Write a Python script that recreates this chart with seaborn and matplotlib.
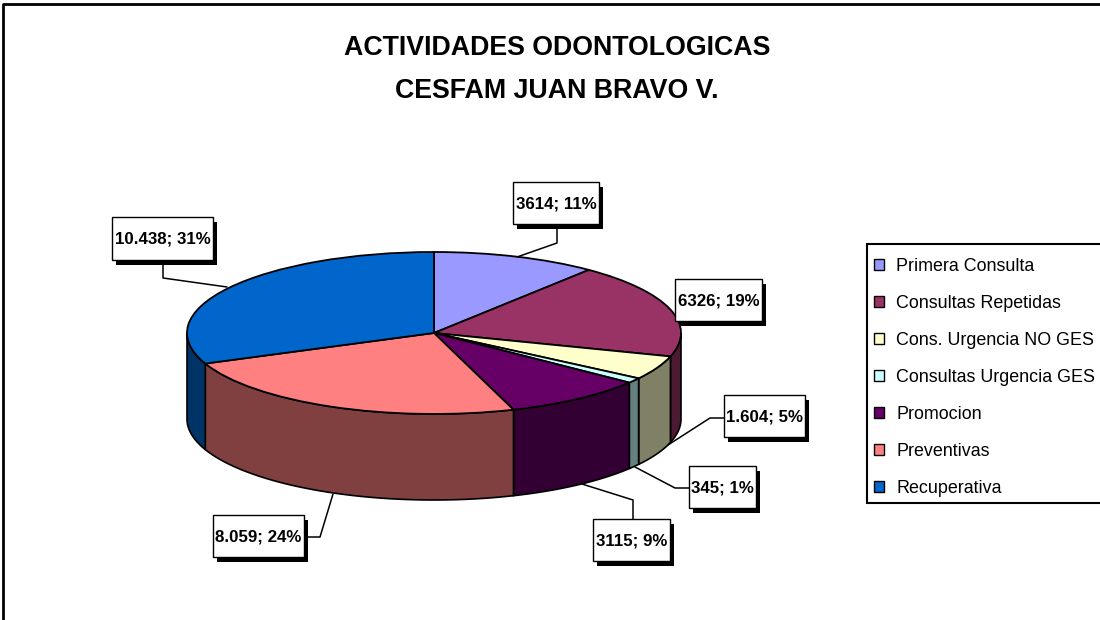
import numpy as np
import matplotlib
matplotlib.use("Agg")
import matplotlib.pyplot as plt
import seaborn as sns
from matplotlib.patches import Rectangle

categories = ["Primera Consulta", "Consultas Repetidas", "Cons. Urgencia NO GES",
              "Consultas Urgencia GES", "Promocion", "Preventivas", "Recuperativa"]
values = [3614, 6326, 1604, 345, 3115, 8059, 10438]
labels = ["3614; 11%", "6326; 19%", "1.604; 5%", "345; 1%", "3115; 9%", "8.059; 24%", "10.438; 31%"]
colors = ["#9999FF", "#993366", "#FFFFCC", "#CCFFFF", "#660066", "#FF8080", "#0066CC"]

title_lines = ["ACTIVIDADES ODONTOLOGICAS", "CESFAM JUAN BRAVO V."]

# label boxes in pixels: x0, y0, x1, y1
boxes = [(513, 182, 599, 224), (675, 279, 762, 321), (724, 395, 805, 437),
         (689, 466, 756, 508), (593, 519, 670, 561), (213, 515, 304, 557),
         (112, 217, 213, 260)]
leaders = [[(557, 224), (557, 243), (517, 257)], None,
           [(724, 418), (710, 418), (668, 445)],
           [(689, 488), (675, 488), (635, 467)],
           [(633, 519), (633, 500), (582, 484)],
           [(304, 537), (320, 537), (333, 494)],
           [(163, 260), (163, 278), (227, 287)]]

W, H = 1100, 620
CX, CY, RX, RY, DEPTH = 434, 333, 247, 81, 86
FONT = "Liberation Sans"


def draw_pie(fig):
    ax = fig.add_axes([0, 0, 1, 1], zorder=1)
    palette = sns.color_palette(colors)
    wedges, _ = ax.pie(values, colors=palette, startangle=90, counterclock=False,
                       wedgeprops={"edgecolor": "black", "linewidth": 1.3, "zorder": 3})
    ax.set_aspect("auto")
    ax.set_xlim((0 - CX) / RX, (W - CX) / RX)
    ax.set_ylim((CY - H) / RY, CY / RY)
    ax.axis("off")

    # side wall of the pie, only the front half shows
    depth = DEPTH / RY
    edges = 90 - np.concatenate([[0], np.cumsum(values)]) / sum(values) * 360
    for a, b, c in zip(edges[:-1], edges[1:], palette):
        t = np.radians(np.linspace(a, b, 200))
        t = t[np.sin(t) <= 0]
        if len(t) == 0:
            continue
        xs = np.cos(t)
        ys = np.sin(t)
        ax.fill(np.r_[xs, xs[::-1]], np.r_[ys, ys[::-1] - depth],
                facecolor=np.array(c) * 0.5, edgecolor="black", linewidth=1.2, zorder=2)
    return wedges


def draw_overlay(fig, wedges):
    ax = fig.add_axes([0, 0, 1, 1], zorder=2)
    ax.set_xlim(0, W)
    ax.set_ylim(H, 0)
    ax.axis("off")
    ax.patch.set_alpha(0)

    # outer chart frame runs off the image on the right and bottom
    ax.plot([3, 3, W + 5], [H + 5, 4, 4], color="black", linewidth=2, clip_on=False)

    for line, y in zip(title_lines, [47, 90]):
        ax.text(557, y + 1, line, ha="center", va="center", fontsize=19.3,
                fontweight="bold", family=FONT, color="black")

    for text, (x0, y0, x1, y1), path in zip(labels, boxes, leaders):
        if path:
            ax.plot(*zip(*path), color="black", linewidth=1.1, zorder=2)
        ax.add_patch(Rectangle((x0 + 4, y0 + 5), x1 - x0, y1 - y0, facecolor="black",
                               edgecolor="none", zorder=3))
        ax.add_patch(Rectangle((x0, y0), x1 - x0, y1 - y0, facecolor="white",
                               edgecolor="black", linewidth=1, zorder=4))
        ax.text((x0 + x1) / 2, (y0 + y1) / 2 + 1, text, ha="center", va="center",
                fontsize=12.2, fontweight="bold", family=FONT, color="black", zorder=5)

    # legend box is drawn apart so it can run past the image edge
    ax.add_patch(Rectangle((867, 244), W, 259, facecolor="white", edgecolor="black",
                           linewidth=1.5, zorder=1))
    leg = ax.legend(wedges, categories, loc="upper left", bbox_to_anchor=(874, 258),
                    bbox_transform=ax.transData, borderaxespad=0, frameon=False,
                    prop={"family": FONT, "size": 12.9}, labelspacing=1.115,
                    handlelength=0.56, handleheight=0.56, handletextpad=0.67,
                    borderpad=0, labelcolor="black")
    for h in leg.get_patches():
        h.set_linewidth(1)


def main():
    sns.set_theme(style="white")
    plt.rcParams["font.family"] = FONT
    fig = plt.figure(figsize=(11, 6.2), dpi=100)
    fig.patch.set_facecolor("white")
    wedges = draw_pie(fig)
    draw_overlay(fig, wedges)
    fig.savefig("out.png", dpi=100)
    plt.close(fig)


if __name__ == "__main__":
    main()
